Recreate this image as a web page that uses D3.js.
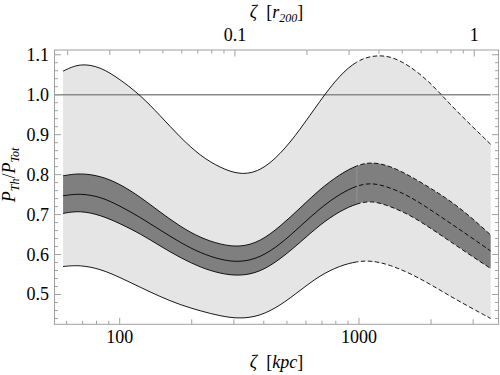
<!DOCTYPE html>
<html>
<head>
<meta charset="utf-8">
<script src="https://cdn.jsdelivr.net/npm/d3@7.9.0/dist/d3.min.js"></script>
<style>
  body { margin: 0; background: #fff; }
</style>
</head>
<body>
<svg id="chart" width="500" height="375" font-family="'Liberation Serif', 'Times New Roman', Times, 'DejaVu Serif', serif"></svg>
<script>
// radius in kpc
const kpc = [58, 68, 83, 100, 122, 147, 179, 217, 263, 318, 386, 468, 567, 687, 833, 980, 1133, 1348, 1634, 1981, 2401, 2910, 3550];

const outerUpper = [1.059, 1.079, 1.070, 1.039, 0.999, 0.949, 0.893, 0.847, 0.817, 0.799, 0.808, 0.850, 0.912, 0.985, 1.050, 1.085, 1.098, 1.098, 1.072, 1.031, 0.976, 0.926, 0.876];
const innerUpper = [0.797, 0.804, 0.797, 0.777, 0.744, 0.707, 0.670, 0.642, 0.625, 0.618, 0.632, 0.670, 0.716, 0.764, 0.801, 0.824, 0.832, 0.822, 0.797, 0.767, 0.735, 0.696, 0.649];
const middle     = [0.747, 0.753, 0.745, 0.722, 0.693, 0.662, 0.630, 0.604, 0.587, 0.580, 0.592, 0.625, 0.670, 0.716, 0.752, 0.773, 0.780, 0.768, 0.745, 0.713, 0.679, 0.645, 0.609];
const innerLower = [0.703, 0.710, 0.699, 0.678, 0.652, 0.622, 0.592, 0.568, 0.552, 0.546, 0.556, 0.588, 0.630, 0.675, 0.709, 0.728, 0.735, 0.721, 0.699, 0.667, 0.633, 0.599, 0.565];
const outerLower = [0.570, 0.574, 0.564, 0.543, 0.518, 0.495, 0.474, 0.459, 0.446, 0.439, 0.446, 0.472, 0.510, 0.548, 0.572, 0.583, 0.585, 0.574, 0.553, 0.526, 0.496, 0.468, 0.440];

const dashFrom = 980;   // curves turn dashed beyond this radius
const r200 = 3030;      // kpc, for the top axis

const yMajor = [0.5, 0.6, 0.7, 0.8, 0.9, 1.0, 1.1];
const xLabels = [100, 1000];
const topLabels = [0.1, 1];

const svg = d3.select('#chart');
const plotLeft = 54.5, plotRight = 498.5, plotTop = 50, plotBottom = 324.3;

const x = d3.scaleLog().domain([53.4, 3828]).range([plotLeft, plotRight]);
const y = d3.scaleLinear().domain([0.4254, 1.1119]).range([plotBottom, plotTop]);

const pts = (arr) => kpc.map((k, i) => [k, arr[i]]);

const defs = svg.append('defs');
defs.append('clipPath').attr('id', 'solidPart')
    .append('rect').attr('x', 0).attr('y', 0).attr('width', x(dashFrom)).attr('height', 375);
defs.append('clipPath').attr('id', 'dashPart')
    .append('rect').attr('x', x(dashFrom)).attr('y', 0).attr('width', 500).attr('height', 375);

const curve = d3.curveBasis;

const band = (hi, lo) => d3.area()
    .x((d) => x(d))
    .y0((d, i) => y(lo[i]))
    .y1((d, i) => y(hi[i]))
    .curve(curve)(kpc);

const line = d3.line().x((d) => x(d[0])).y((d) => y(d[1])).curve(curve);

svg.append('path').attr('d', band(outerUpper, outerLower)).attr('fill', '#e5e5e5');
svg.append('path').attr('d', band(innerUpper, innerLower)).attr('fill', '#7f7f7f');

// faint seam where the solid and dashed pieces meet
const seam = kpc.indexOf(dashFrom);
svg.append('line')
    .attr('x1', x(dashFrom)).attr('x2', x(dashFrom))
    .attr('y1', y(innerUpper[seam]) + 1)
    .attr('y2', y(innerLower[seam]) - 1)
    .attr('stroke', '#9c9c9c').attr('stroke-width', 0.8);

// P = 1 reference line
svg.append('line')
    .attr('x1', plotLeft).attr('x2', x(kpc[kpc.length - 1]))
    .attr('y1', y(1)).attr('y2', y(1))
    .attr('stroke', '#8a8a8a').attr('stroke-width', 1.6);

[outerUpper, innerUpper, middle, innerLower, outerLower].forEach((s) => {
    svg.append('path').attr('d', line(pts(s)))
        .attr('fill', 'none').attr('stroke', '#000').attr('stroke-width', 0.9)
        .attr('clip-path', 'url(#solidPart)');
    svg.append('path').attr('d', line(pts(s)))
        .attr('fill', 'none').attr('stroke', '#000').attr('stroke-width', 0.9)
        .attr('stroke-dasharray', '4.5,2.5')
        .attr('clip-path', 'url(#dashPart)');
});

// frame
svg.append('rect')
    .attr('x', plotLeft).attr('y', plotTop)
    .attr('width', plotRight - plotLeft).attr('height', plotBottom - plotTop)
    .attr('fill', 'none').attr('stroke', '#a0a0a0').attr('stroke-width', 1);

const tickColor = '#a0a0a0';

// y ticks, both sides
const yTicks = d3.range(22, 56).map((i) => i / 50);
yTicks.forEach((v) => {
    const major = Math.abs(v * 10 - Math.round(v * 10)) < 1e-6;
    const len = major ? 6.5 : 3.5;
    svg.append('line').attr('x1', plotLeft).attr('x2', plotLeft + len)
        .attr('y1', y(v)).attr('y2', y(v)).attr('stroke', tickColor);
    svg.append('line').attr('x1', plotRight).attr('x2', plotRight - len)
        .attr('y1', y(v)).attr('y2', y(v)).attr('stroke', tickColor);
});
yMajor.forEach((v) => {
    svg.append('text').attr('x', 49).attr('y', y(v) + 6)
        .attr('text-anchor', 'end').attr('font-size', 18)
        .text(d3.format('.1f')(v));
});

// bottom log ticks
const bottomTicks = [60, 70, 80, 90, 100, 200, 300, 400, 500, 600, 700, 800, 900, 1000, 2000, 3000];
bottomTicks.forEach((k) => {
    const m = Math.round(k / Math.pow(10, Math.floor(Math.log10(k) + 1e-9)));
    const len = m === 1 ? 6.5 : (m <= 3 ? 5 : 3.5);
    svg.append('line').attr('x1', x(k)).attr('x2', x(k))
        .attr('y1', plotBottom).attr('y2', plotBottom - len).attr('stroke', tickColor);
});
xLabels.forEach((k) => {
    svg.append('text').attr('x', x(k)).attr('y', 343)
        .attr('text-anchor', 'middle').attr('font-size', 18).text(k);
});

// top axis in units of r200
const topTicks = [0.02, 0.03, 0.04, 0.05, 0.06, 0.07, 0.08, 0.09, 0.1, 0.2, 0.3, 0.4, 0.5, 0.6, 0.7, 0.8, 0.9, 1];
topTicks.forEach((r) => {
    const m = Math.round(r / Math.pow(10, Math.floor(Math.log10(r) + 1e-9)));
    const len = m === 1 ? 6.5 : (m <= 3 ? 5 : 3.5);
    svg.append('line').attr('x1', x(r * r200)).attr('x2', x(r * r200))
        .attr('y1', plotTop).attr('y2', plotTop + len).attr('stroke', tickColor);
});
topLabels.forEach((r) => {
    svg.append('text').attr('x', x(r * r200)).attr('y', 41)
        .attr('text-anchor', 'middle').attr('font-size', 18).text(r);
});

// axis titles
const cx = (plotLeft + plotRight) / 2;

const xt = svg.append('text').attr('x', cx).attr('y', 368)
    .attr('text-anchor', 'middle').attr('font-size', 18).attr('xml:space', 'preserve');
xt.append('tspan').attr('font-style', 'italic').text('ζ');
xt.append('tspan').text('  [');
xt.append('tspan').attr('font-style', 'italic').text('kpc');
xt.append('tspan').text(']');

const tt = svg.append('text').attr('x', cx).attr('y', 18)
    .attr('text-anchor', 'middle').attr('font-size', 18).attr('xml:space', 'preserve');
tt.append('tspan').attr('font-style', 'italic').text('ζ');
tt.append('tspan').text('  [');
tt.append('tspan').attr('font-style', 'italic').text('r');
tt.append('tspan').attr('font-style', 'italic').attr('font-size', 12).attr('dy', 4).text('200');
tt.append('tspan').attr('dy', -4).text(']');

const yt = svg.append('text')
    .attr('transform', 'translate(15,175) rotate(-90)')
    .attr('text-anchor', 'middle').attr('font-size', 18);
yt.append('tspan').attr('font-style', 'italic').text('P');
yt.append('tspan').attr('font-style', 'italic').attr('font-size', 12).attr('dy', 4).text('Th');
yt.append('tspan').attr('dy', -4).text('/');
yt.append('tspan').attr('font-style', 'italic').text('P');
yt.append('tspan').attr('font-style', 'italic').attr('font-size', 12).attr('dy', 4).text('Tot');
</script>
</body>
</html>
